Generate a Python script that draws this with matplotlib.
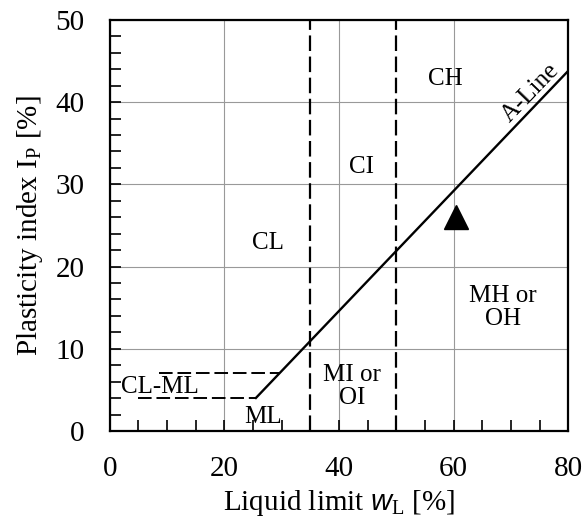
import matplotlib
matplotlib.use("Agg")
import matplotlib.pyplot as plt
import numpy as np

plt.rcParams['font.family'] = 'Liberation Serif'
plt.rcParams['mathtext.fontset'] = 'custom'
plt.rcParams['mathtext.rm'] = 'Liberation Serif'
plt.rcParams['mathtext.it'] = 'Liberation Sans:italic'

# A-line: Ip = 0.73 (wL - 20), drawn from Ip = 4 up to wL = 80
a_line_wl = [25.5, 80]
a_line_ip = [0.73 * (w - 20) for w in a_line_wl]

# boundaries between low / intermediate / high plasticity
wl_bounds = [35, 50]

# CL-ML band
band_lower_x = [5, 25.5]
band_lower_y = [4, 4]
band_upper_x = [8.5, 29.6]
band_upper_y = [7, 7]

# soil sample
sample_wl = [60.5]
sample_ip = [26]

zone_names = ["CL", "CI", "CH", "MH or\nOH", "MI or\nOI", "CL-ML", "ML"]
zone_x = [27.6, 44, 58.5, 68.6, 42.3, 8.7, 26.8]
zone_y = [22.9, 32.1, 42.8, 15, 5.4, 5.4, 1.7]

fig = plt.figure(figsize=(5.84, 5.23), dpi=100)
ax = fig.add_axes([0.188, 0.176, 0.785, 0.786])

ax.grid(True, color='#999999', linewidth=0.8)
ax.set_axisbelow(True)

dash = (0, (7, 2.5))
ax.plot(a_line_wl, a_line_ip, color='black', linewidth=1.7)
for w in wl_bounds:
    ax.axvline(w, color='black', linewidth=1.6, linestyle=dash)
ax.plot(band_lower_x, band_lower_y, color='black', linewidth=1.4, linestyle=dash)
ax.plot(band_upper_x, band_upper_y, color='black', linewidth=1.4, linestyle=dash)
ax.plot(sample_wl, sample_ip, marker='^', color='black', markersize=17, linestyle='none')

for name, x, y in zip(zone_names, zone_x, zone_y):
    ax.text(x, y, name, ha='center', va='center', fontsize=18, linespacing=1.05)

ax.text(73.4, 41.1, "A-Line", ha='center', va='center', fontsize=18, rotation=46)

ax.set_xlim(0, 80)
ax.set_ylim(0, 50)
ax.set_xticks([0, 20, 40, 60, 80])
ax.set_yticks([0, 10, 20, 30, 40, 50])
ax.set_xticks(np.arange(0, 81, 5), minor=True)
ax.set_yticks(np.arange(0, 51, 2), minor=True)
ax.tick_params(which='both', direction='in', labelsize=21, pad=18)
ax.tick_params(which='major', length=8, width=1.2)
ax.tick_params(which='minor', length=8, width=1.2)
for s in ax.spines.values():
    s.set_linewidth(1.6)

ax.set_xlabel(r"Liquid limit $w_\mathrm{L}$ [%]", fontsize=21, labelpad=4)
ax.set_ylabel(r"Plasticity index I$_\mathrm{P}$ [%]", fontsize=21, labelpad=8)

fig.savefig("out.png", dpi=100)
